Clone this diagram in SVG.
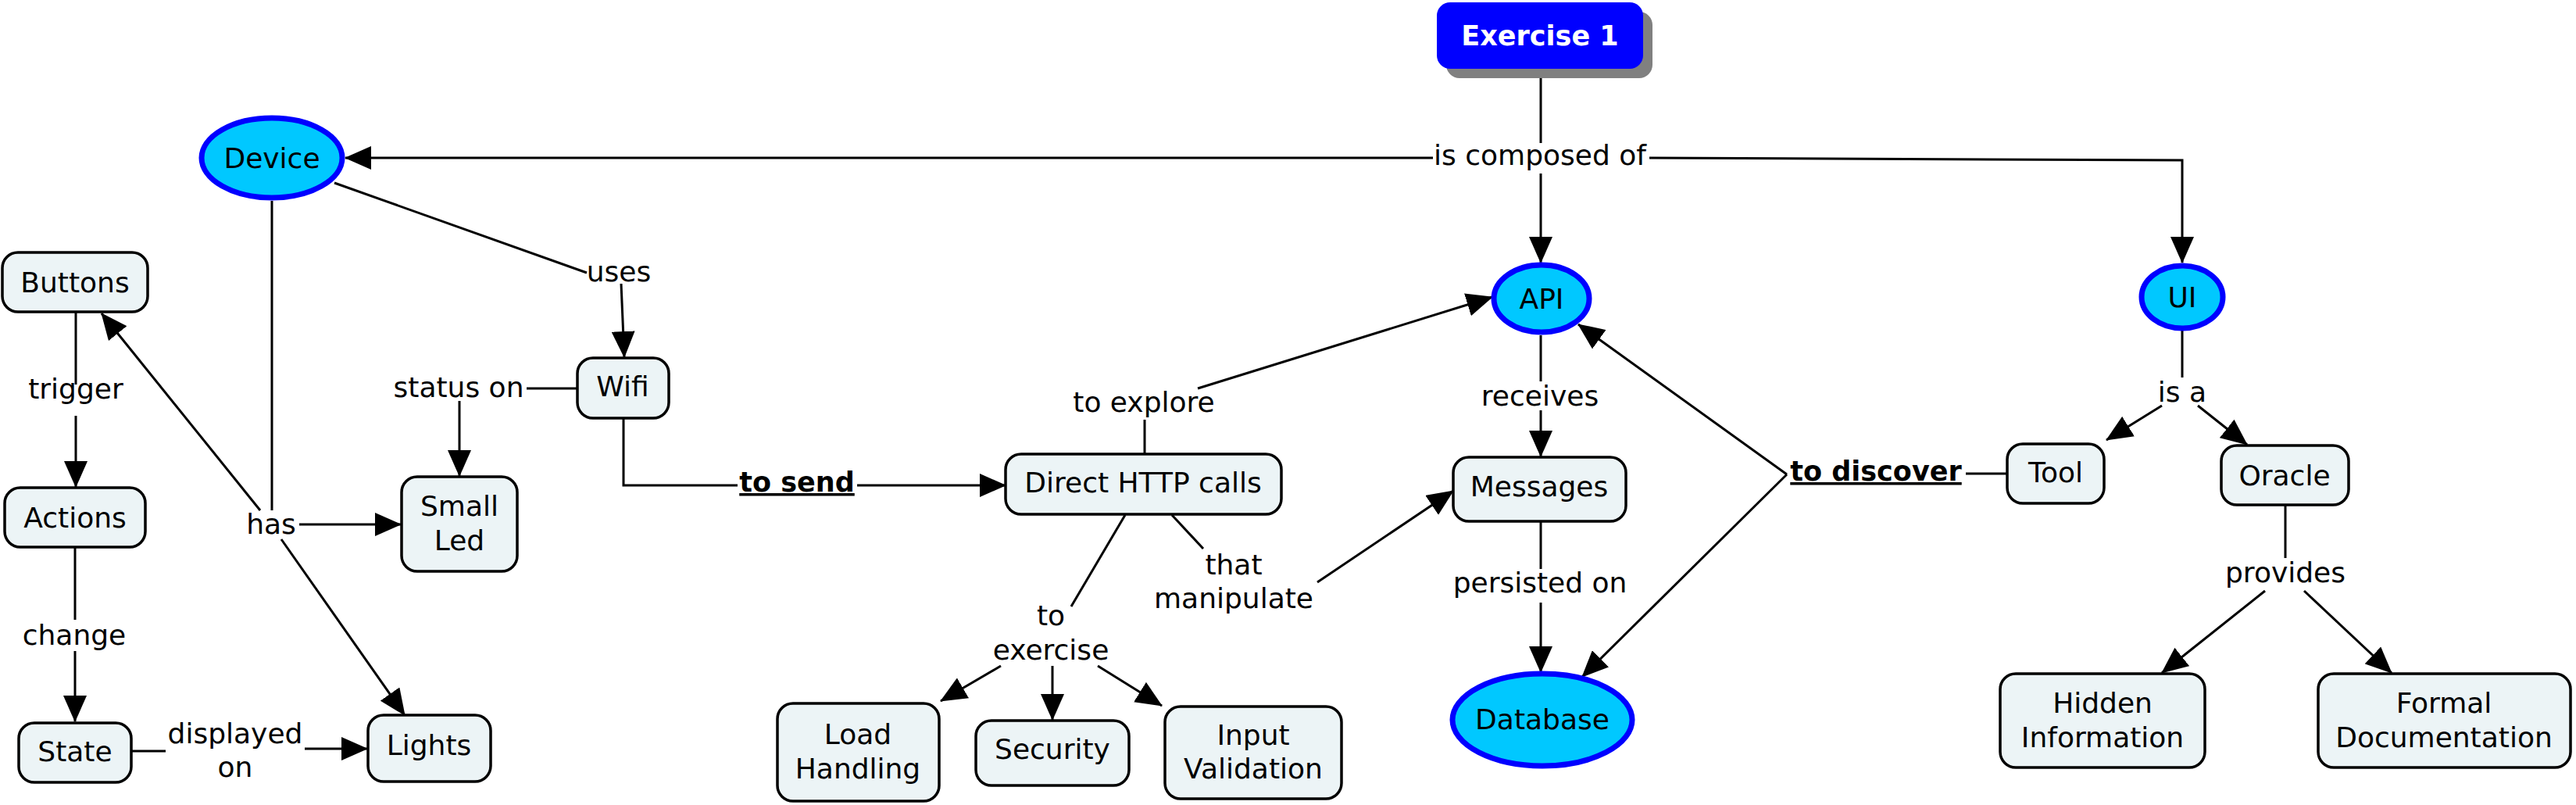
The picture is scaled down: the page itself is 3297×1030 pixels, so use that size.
<svg xmlns="http://www.w3.org/2000/svg" width="3297" height="1030" viewBox="0 0 3297 1030">
<style>
  text { font-family: "DejaVu Sans", Verdana, sans-serif; font-size: 36px; fill: #000; text-anchor: middle; }
  .b { font-weight: bold; font-size: 35px; }
  .u { text-decoration: underline; }
  .w { fill: #fff; }
  .box { fill: #ECF4F6; stroke: #000; stroke-width: 3.5; }
  .ell { fill: #00C8FF; stroke: #0000FF; stroke-width: 7; }
  .c { fill: none; stroke: #000; stroke-width: 3; }
  .a { marker-end: url(#ah); }
</style>
<defs>
  <marker id="ah" markerUnits="userSpaceOnUse" viewBox="0 0 34 30" markerWidth="34" markerHeight="30" refX="33" refY="15" orient="auto">
    <path d="M0,0 L34,15 L0,30 z" fill="#000"/>
  </marker>
</defs>
<rect width="3297" height="1030" fill="#fff"/>

<g id="connectors">
  <line class="c" x1="1972" y1="88" x2="1972" y2="183"/>
  <line class="c a" x1="1834" y1="202" x2="442" y2="202"/>
  <line class="c a" x1="1972" y1="222" x2="1972" y2="336"/>
  <polyline class="c a" points="2111,202 2793,205 2793,336"/>
  <line class="c" x1="428" y1="234" x2="751" y2="349"/>
  <line class="c a" x1="795" y1="363" x2="799" y2="457"/>
  <line class="c" x1="739" y1="497" x2="674" y2="497"/>
  <line class="c a" x1="588" y1="513" x2="588" y2="609"/>
  <polyline class="c" points="798,535 798,621 944,621"/>
  <line class="c a" x1="1097" y1="621" x2="1287" y2="621"/>
  <line class="c" x1="1465" y1="581" x2="1465" y2="537"/>
  <line class="c a" x1="1533" y1="497" x2="1910" y2="380"/>
  <line class="c" x1="1500" y1="659" x2="1540" y2="702"/>
  <line class="c a" x1="1686" y1="745" x2="1860" y2="628"/>
  <line class="c" x1="1440" y1="659" x2="1371" y2="776"/>
  <line class="c a" x1="1281" y1="852" x2="1204" y2="897"/>
  <line class="c a" x1="1347" y1="852" x2="1347" y2="921"/>
  <line class="c a" x1="1405" y1="852" x2="1487" y2="903"/>
  <line class="c" x1="1972" y1="429" x2="1972" y2="488"/>
  <line class="c a" x1="1972" y1="525" x2="1972" y2="584"/>
  <line class="c" x1="1972" y1="667" x2="1972" y2="728"/>
  <line class="c a" x1="1972" y1="771" x2="1972" y2="860"/>
  <line class="c" x1="2569" y1="606" x2="2516" y2="606"/>
  <line class="c a" x1="2287" y1="607" x2="2020" y2="415"/>
  <line class="c a" x1="2287" y1="607" x2="2025" y2="866"/>
  <line class="c" x1="2793" y1="423" x2="2793" y2="483"/>
  <line class="c a" x1="2767" y1="519" x2="2696" y2="563"/>
  <line class="c a" x1="2813" y1="519" x2="2876" y2="569"/>
  <line class="c" x1="2925" y1="646" x2="2925" y2="714"/>
  <line class="c a" x1="2899" y1="756" x2="2767" y2="861"/>
  <line class="c a" x1="2949" y1="756" x2="3061" y2="861"/>
  <line class="c" x1="348" y1="257" x2="348" y2="653"/>
  <line class="c a" x1="333" y1="653" x2="130" y2="401"/>
  <line class="c a" x1="383" y1="671" x2="513" y2="671"/>
  <line class="c a" x1="360" y1="690" x2="518" y2="915"/>
  <line class="c" x1="97" y1="399" x2="97" y2="492"/>
  <line class="c a" x1="97" y1="532" x2="97" y2="623"/>
  <line class="c" x1="96" y1="700" x2="96" y2="793"/>
  <line class="c a" x1="96" y1="833" x2="96" y2="923"/>
  <line class="c" x1="168" y1="961" x2="212" y2="961"/>
  <line class="c a" x1="390" y1="958" x2="470" y2="958"/>
</g>

<g id="labels">
  <text x="1971" y="211">is composed of</text>
  <text x="792" y="360">uses</text>
  <text x="587" y="508">status on</text>
  <text x="97" y="510">trigger</text>
  <text x="347" y="683">has</text>
  <text x="95" y="825">change</text>
  <text x="301" y="951">displayed</text>
  <text x="301" y="994">on</text>
  <text class="b u" x="1020" y="629">to send</text>
  <text x="1464" y="527">to explore</text>
  <text x="1579" y="735">that</text>
  <text x="1579" y="778">manipulate</text>
  <text x="1345" y="800">to</text>
  <text x="1345" y="844">exercise</text>
  <text x="1971" y="519">receives</text>
  <text x="1971" y="758">persisted on</text>
  <text class="b u" x="2401" y="615">to discover</text>
  <text x="2793" y="514">is a</text>
  <text x="2925" y="745">provides</text>
</g>

<g id="exercise1">
  <rect x="1851" y="15" width="264" height="85" rx="17" fill="#808080"/>
  <rect x="1839" y="3" width="264" height="85" rx="17" fill="#0000FF"/>
  <text class="b w" x="1971" y="58">Exercise 1</text>
</g>
<g id="device">
  <ellipse class="ell" cx="348" cy="202" rx="90" ry="51"/>
  <text x="348" y="215">Device</text>
</g>
<g id="api">
  <ellipse class="ell" cx="1973" cy="382" rx="61" ry="43"/>
  <text x="1973" y="395">API</text>
</g>
<g id="ui">
  <ellipse class="ell" cx="2793" cy="380" rx="52" ry="40"/>
  <text x="2793" y="393">UI</text>
</g>
<g id="database">
  <ellipse class="ell" cx="1974" cy="921" rx="115" ry="59"/>
  <text x="1974" y="933">Database</text>
</g>
<g id="buttons">
  <rect class="box" x="3" y="323" width="186" height="76" rx="20"/>
  <text x="96" y="374">Buttons</text>
</g>
<g id="actions">
  <rect class="box" x="6" y="624" width="180" height="76" rx="20"/>
  <text x="96" y="675">Actions</text>
</g>
<g id="state">
  <rect class="box" x="24" y="925" width="144" height="76" rx="20"/>
  <text x="96" y="974">State</text>
</g>
<g id="lights">
  <rect class="box" x="471" y="915" width="157" height="85" rx="20"/>
  <text x="549" y="966">Lights</text>
</g>
<g id="smallled">
  <rect class="box" x="514" y="610" width="148" height="121" rx="20"/>
  <text x="588" y="660">Small</text>
  <text x="588" y="704">Led</text>
</g>
<g id="wifi">
  <rect class="box" x="739" y="458" width="117" height="77" rx="20"/>
  <text x="797" y="507">Wifi</text>
</g>
<g id="http">
  <rect class="box" x="1287" y="581" width="353" height="77" rx="20"/>
  <text x="1463" y="630">Direct HTTP calls</text>
</g>
<g id="messages">
  <rect class="box" x="1860" y="585" width="221" height="82" rx="20"/>
  <text x="1970" y="635">Messages</text>
</g>
<g id="load">
  <rect class="box" x="995" y="900" width="207" height="125" rx="20"/>
  <text x="1098" y="952">Load</text>
  <text x="1098" y="996">Handling</text>
</g>
<g id="security">
  <rect class="box" x="1249" y="922" width="196" height="83" rx="20"/>
  <text x="1347" y="971">Security</text>
</g>
<g id="input">
  <rect class="box" x="1491" y="904" width="226" height="118" rx="20"/>
  <text x="1604" y="953">Input</text>
  <text x="1604" y="996">Validation</text>
</g>
<g id="tool">
  <rect class="box" x="2569" y="568" width="124" height="76" rx="20"/>
  <text x="2631" y="617">Tool</text>
</g>
<g id="oracle">
  <rect class="box" x="2843" y="570" width="163" height="76" rx="20"/>
  <text x="2924" y="621">Oracle</text>
</g>
<g id="hidden">
  <rect class="box" x="2560" y="862" width="262" height="120" rx="20"/>
  <text x="2691" y="912">Hidden</text>
  <text x="2691" y="956">Information</text>
</g>
<g id="formal">
  <rect class="box" x="2967" y="862" width="323" height="120" rx="20"/>
  <text x="3128" y="912">Formal</text>
  <text x="3128" y="956">Documentation</text>
</g>
</svg>
